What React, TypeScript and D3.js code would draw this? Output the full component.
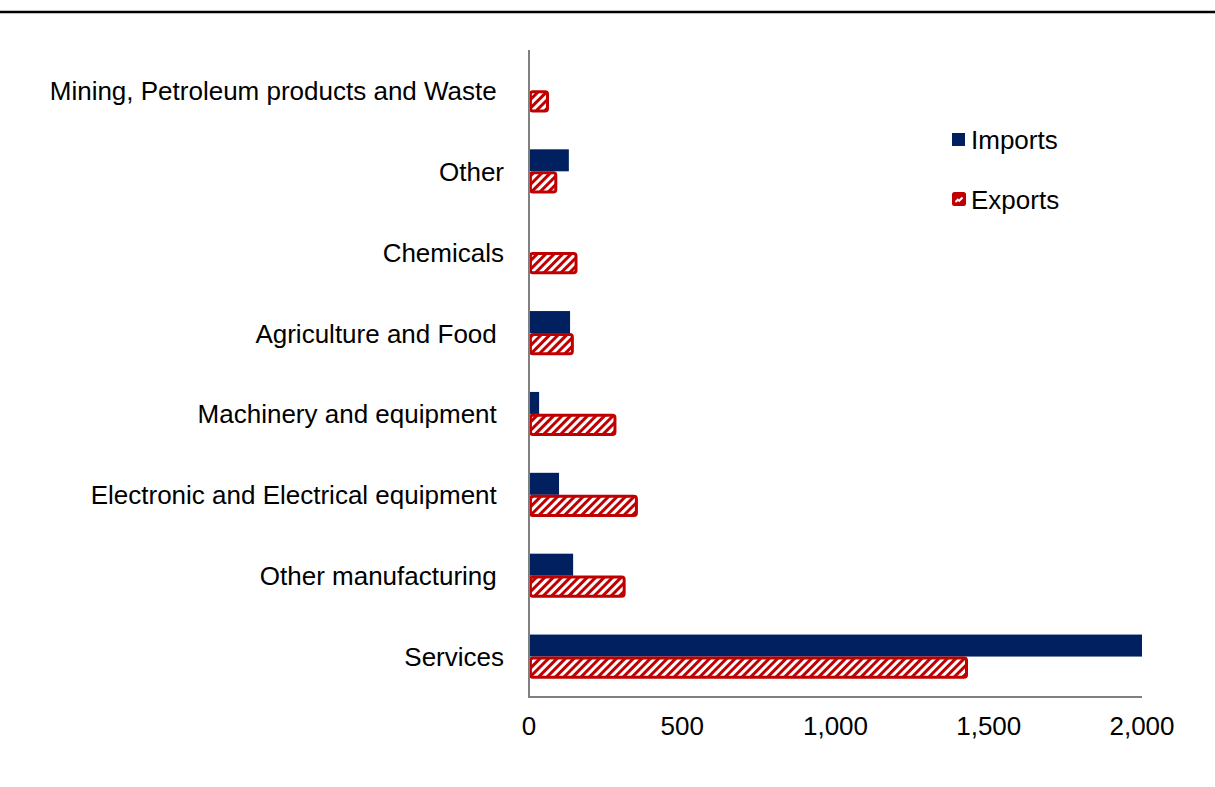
import React from "react";
import * as d3 from "d3";

const categories = [
  "Mining, Petroleum products and Waste ",
  "Other",
  "Chemicals",
  "Agriculture and Food ",
  "Machinery and equipment ",
  "Electronic and Electrical equipment ",
  "Other manufacturing ",
  "Services",
];
const imports = [0, 130, 0, 134, 33, 98, 144, 2000];
const exports = [65, 92, 158, 146, 285, 355, 315, 1432];
const xTicks = [0, 500, 1000, 1500, 2000];
const seriesNames = ["Imports", "Exports"];

const W = 1215;
const H = 787;
const left = 529;
const right = 1142;
const top = 50;
const bottom = 697;
const IMP = "#002060";
const EXP = "#C00000";
const FONT = "Liberation Sans, Arial, sans-serif";
const FS = 26;

export default function App() {
  const x = d3.scaleLinear().domain([0, 2000]).range([left, right]);
  const y = d3.scaleBand().domain(categories).range([top, bottom]).paddingInner(0).paddingOuter(0);
  const bw = y.bandwidth();
  const barH = 22;
  const fmt = d3.format(",");

  return (
    <svg width={W} height={H} style={{ position: "absolute", left: 0, top: 0, background: "#fff" }}>
      <defs>
        <pattern id="stripes" patternUnits="userSpaceOnUse" width={6} height={6} patternTransform="rotate(45)">
          <rect x={0} y={0} width={6} height={6} fill="#ffffff" />
          <rect x={0} y={0} width={3} height={6} fill={EXP} />
        </pattern>
      </defs>
      <rect x={0} y={0} width={W} height={H} fill="#fff" />
      <line x1={0} x2={W} y1={12} y2={12} stroke="#000" strokeWidth={2.5} />

      {categories.map((c, i) => {
        const yc = (y(c) as number) + bw / 2;
        return (
          <g key={c}>
            {imports[i] > 0 && (
              <rect x={x(0)} y={yc - barH} width={x(imports[i]) - x(0)} height={barH} fill={IMP} />
            )}
            {exports[i] > 0 && (
              <rect
                x={x(0) + 1.4}
                y={yc + 1.4}
                width={x(exports[i]) - x(0) - 2.8}
                height={barH - 2.8}
                rx={2.5}
                fill="url(#stripes)"
                stroke={EXP}
                strokeWidth={3}
              />
            )}
            <text
              x={504}
              y={yc + 0.5}
              textAnchor="end"
              dominantBaseline="central"
              fontFamily={FONT}
              fontSize={FS}
              fill="#000"
              style={{ whiteSpace: "pre" }}
            >
              {c}
            </text>
          </g>
        );
      })}

      <line x1={left} x2={left} y1={top} y2={bottom} stroke="#808080" strokeWidth={2} />
      <line x1={left - 1} x2={right} y1={bottom} y2={bottom} stroke="#808080" strokeWidth={2} />

      {xTicks.map((t) => (
        <text
          key={t}
          x={x(t)}
          y={726}
          textAnchor="middle"
          dominantBaseline="central"
          fontFamily={FONT}
          fontSize={FS}
          fill="#000"
        >
          {fmt(t)}
        </text>
      ))}

      <g>
        <rect x={952} y={133} width={13} height={13} fill={IMP} />
        <text x={971} y={140} dominantBaseline="central" fontFamily={FONT} fontSize={FS} fill="#000">
          {seriesNames[0]}
        </text>
        <rect x={952} y={192} width={14} height={14} rx={2.5} fill={EXP} />
        <path d="M955.5,202 L958.5,199 M958.5,201.5 L962.5,197.5" stroke="#fff" strokeWidth={2} />
        <text x={971} y={200} dominantBaseline="central" fontFamily={FONT} fontSize={FS} fill="#000">
          {seriesNames[1]}
        </text>
      </g>
    </svg>
  );
}
